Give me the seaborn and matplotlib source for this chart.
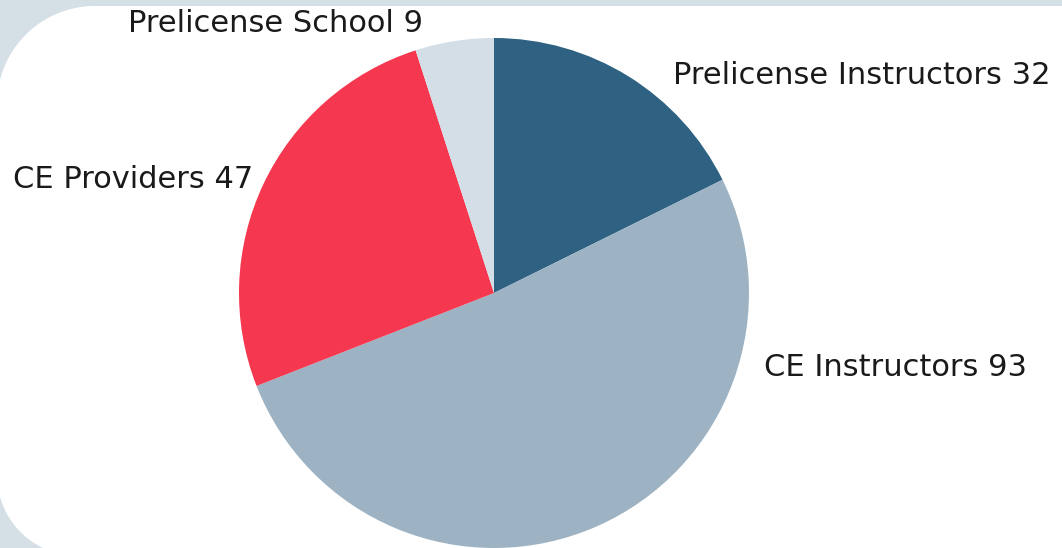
import numpy as np
import matplotlib
matplotlib.use("Agg")
import matplotlib.pyplot as plt
from matplotlib.patches import Polygon, Rectangle
import seaborn as sns

# ---- data ----
categories = ["Prelicense Instructors", "CE Instructors", "CE Providers", "Prelicense School"]
values = [32, 93, 47, 9]
colors = ["#2e6182", "#9db3c3", "#f5374f", "#d3dee6"]

sns.set_theme(style="white")
plt.rcParams["font.family"] = ["DejaVu Sans"]

W, H = 1062, 548
fig = plt.figure(figsize=(W / 100, H / 100), dpi=100)
fig.patch.set_facecolor("white")

def fx(x):
    return x / W

def fy(y):
    return 1 - y / H

# ---- background decoration ----
bg_col = "#d4dfe6"
fig.patches.append(Rectangle((0, 0), 1, 1, transform=fig.transFigure,
                             facecolor=bg_col, edgecolor="none", zorder=0))
pts = [(1100, 6), (95, 6)]
t = np.linspace(np.pi / 2, np.pi, 60)
cx, cy, r = 95, 104, 98
pts += list(zip(cx + r * np.cos(t), cy - r * np.sin(t)))
t2 = np.linspace(np.pi, np.pi / 2, 60)
cx2, cy2, r2 = 78, 475, 81
pts += list(zip(cx2 + r2 * np.cos(t2), cy2 + r2 * np.sin(t2)))
pts += [(1100, 600)]
pts = [(fx(x), fy(y)) for x, y in pts]
fig.patches.append(Polygon(pts, closed=True, transform=fig.transFigure,
                           facecolor="white", edgecolor="none", zorder=1))

# ---- pie ----
ax = fig.add_axes([0, 0, 1, 1])
ax.set_zorder(3)
ax.set_facecolor("none")
ax.patch.set_alpha(0)
pal = sns.color_palette(colors)
ax.pie(values, colors=pal, startangle=90, counterclock=False,
       center=(494, H - 293), radius=255,
       wedgeprops=dict(linewidth=0, antialiased=True))
ax.set_xlim(0, W)
ax.set_ylim(0, H)
ax.set_aspect("equal")
ax.axis("off")

# ---- labels ----
label_pos = [(861.5, 84), (895, 376), (133, 188), (276, 32)]
for cat, val, (x, y) in zip(categories, values, label_pos):
    fig.text(fx(x), fy(y), f"{cat} {val}", ha="center", va="baseline",
             fontsize=22, color="#1a1a1a", zorder=5)

fig.savefig("out.png", dpi=100, facecolor=fig.get_facecolor())
